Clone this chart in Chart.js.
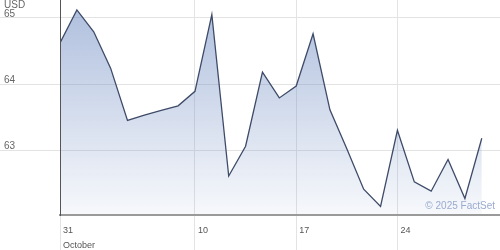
<!DOCTYPE html>
<html>
<head>
<meta charset="utf-8">
<script src="https://cdn.jsdelivr.net/npm/chart.js@4.4.1/dist/chart.umd.min.js"></script>
<style>
  html, body { margin: 0; padding: 0; background: #fff; }
  #wrap { position: relative; width: 500px; height: 250px; }
  .note { position: absolute; font-family: "Liberation Sans", Arial, sans-serif; white-space: nowrap; }
</style>
</head>
<body>
<div id="wrap">
  <canvas id="chart" width="500" height="250"></canvas>
  <div class="note" style="left:4px; top:-1px; font-size:10px; line-height:12px; color:#666;">USD</div>
  <div class="note" style="right:5px; top:200px; font-size:10px; line-height:12px; color:#9aabcf;">© 2025 FactSet</div>
</div>
<script>
// trading days shown on the chart
const dates = [
  '2025-10-31', '2025-11-01', '2025-11-03', '2025-11-04', '2025-11-05', '2025-11-06',
  '2025-11-07', '2025-11-08', '2025-11-10', '2025-11-11', '2025-11-12', '2025-11-13',
  '2025-11-14', '2025-11-15', '2025-11-17', '2025-11-18', '2025-11-19', '2025-11-20',
  '2025-11-21', '2025-11-22', '2025-11-24', '2025-11-25', '2025-11-26', '2025-11-27',
  '2025-11-28', '2025-11-29'
];
// closing price, USD
const prices = [
  64.62, 65.12, 64.79, 64.24, 63.45, 63.53, 63.60, 63.67, 63.89, 65.05, 62.61, 63.06,
  64.18, 63.79, 63.97, 64.76, 63.61, 63.02, 62.41, 62.15, 63.30, 62.52, 62.38, 62.86,
  62.27, 63.18
];
const yTicks = [63, 64, 65];
const xTickIdx = [0, 8, 14, 20];   // positions in dates[]
const xTickLabels = [['31', 'October'], '10', '17', '24'];

const fontFamily = '"Liberation Sans", Arial, sans-serif';
const gridColor = '#e3e3e3';

const ctx = document.getElementById('chart');

const myChart = new Chart(ctx, {
  type: 'line',
  data: {
    labels: dates,
    datasets: [{
      label: 'Price',
      data: prices.map((p, i) => ({ x: i, y: p })),
      borderColor: '#3e4b68',
      borderWidth: 1.3,
      pointRadius: 0,
      tension: 0,
      fill: 'start',
      backgroundColor: (c) => {
        const area = c.chart.chartArea;
        if (!area) return 'rgba(110,140,195,0.3)';
        const g = c.chart.ctx.createLinearGradient(0, area.top, 0, area.bottom);
        g.addColorStop(0, 'rgba(105,135,192,0.55)');
        g.addColorStop(1, 'rgba(110,140,195,0.06)');
        return g;
      }
    }]
  },
  options: {
    responsive: false,
    animation: false,
    layout: { padding: 0 },
    plugins: {
      legend: { display: false },
      tooltip: { enabled: false }
    },
    scales: {
      x: {
        type: 'linear',
        min: 0,
        max: 26.08,
        afterBuildTicks: (s) => { s.ticks = xTickIdx.map(v => ({ value: v })); },
        afterFit: (s) => { s.height = 35; s.paddingLeft = 0; s.paddingRight = 0; },
        grid: { color: gridColor, tickLength: 35 },
        border: { color: '#9a9a9a', width: 2, z: 1 },
        ticks: {
          align: 'start',
          labelOffset: 3,
          padding: -27,
          maxRotation: 0,
          autoSkip: false,
          color: '#555',
          font: { family: fontFamily, size: 9, lineHeight: '15px' },
          callback: (v, i) => xTickLabels[i]
        }
      },
      y: {
        min: 62.02,
        max: 65.27,
        afterBuildTicks: (s) => { s.ticks = yTicks.map(v => ({ value: v })); },
        afterFit: (s) => { s.width = 60; s.paddingTop = 0; s.paddingBottom = 0; },
        grid: { color: gridColor, tickLength: 60 },
        border: { color: '#555', width: 1, z: 1 },
        ticks: {
          crossAlign: 'near',
          padding: -15,
          labelOffset: -4,
          color: '#666',
          font: { family: fontFamily, size: 10 },
          callback: (v) => String(v)
        }
      }
    }
  }
});
</script>
</body>
</html>
